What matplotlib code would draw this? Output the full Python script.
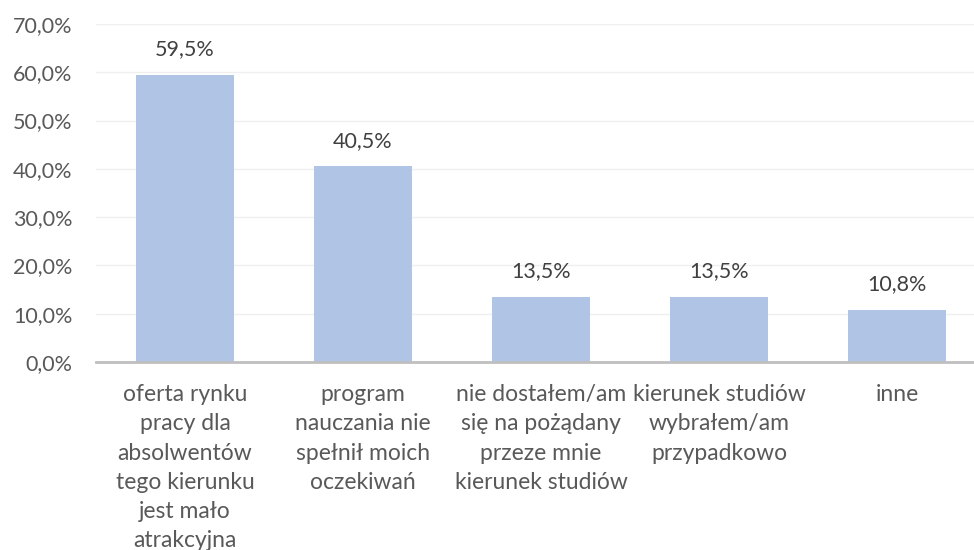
import matplotlib.pyplot as plt
from matplotlib.ticker import FuncFormatter

categories = ['oferta rynku\npracy dla\nabsolwentów\ntego kierunku\njest mało\natrakcyjna',
              'program\nnauczania nie\nspełnił moich\noczekiwań',
              'nie dostałem/am\nsię na pożądany\nprzeze mnie\nkierunek studiów',
              'kierunek studiów\nwybrałem/am\nprzypadkowo',
              'inne']
values = [59.5, 40.5, 13.5, 13.5, 10.8]
yticks = [0, 10, 20, 30, 40, 50, 60, 70]

plt.rcParams['font.family'] = ['Lato', 'DejaVu Sans']
fig = plt.figure(figsize=(9.74, 5.5), dpi=100)
ax = fig.add_axes([96/974, 188/550, 890/974, 338/550])

x = range(len(values))
ax.bar(x, values, width=0.55, color='#B0C4E6', zorder=2)
for i, v in enumerate(values):
    ax.text(i, v + 3.2, ('%.1f%%' % v).replace('.', ','), ha='center', va='bottom',
            fontsize=15.5, color='#404040')

ax.set_xlim(-0.5, len(values) - 0.5)
ax.set_ylim(0, 70)
ax.set_yticks(yticks)
ax.yaxis.set_major_formatter(FuncFormatter(lambda v, p: ('%.1f%%' % v).replace('.', ',')))
ax.grid(axis='y', color='#EFEFEF', linewidth=1, zorder=0)
ax.set_xticks(list(x))
ax.set_xticklabels(categories, fontsize=16.5, color='#595959', linespacing=1.48, va='top')
ax.tick_params(axis='y', length=0, labelsize=15.5, labelcolor='#595959', pad=17)
ax.tick_params(axis='x', length=0, pad=16)
for s in ['top', 'right', 'left']:
    ax.spines[s].set_visible(False)
ax.spines['bottom'].set_color('#BFBFBF')
ax.spines['bottom'].set_linewidth(2)
ax.spines['bottom'].set_zorder(3)

fig.savefig('out.png', dpi=100)
